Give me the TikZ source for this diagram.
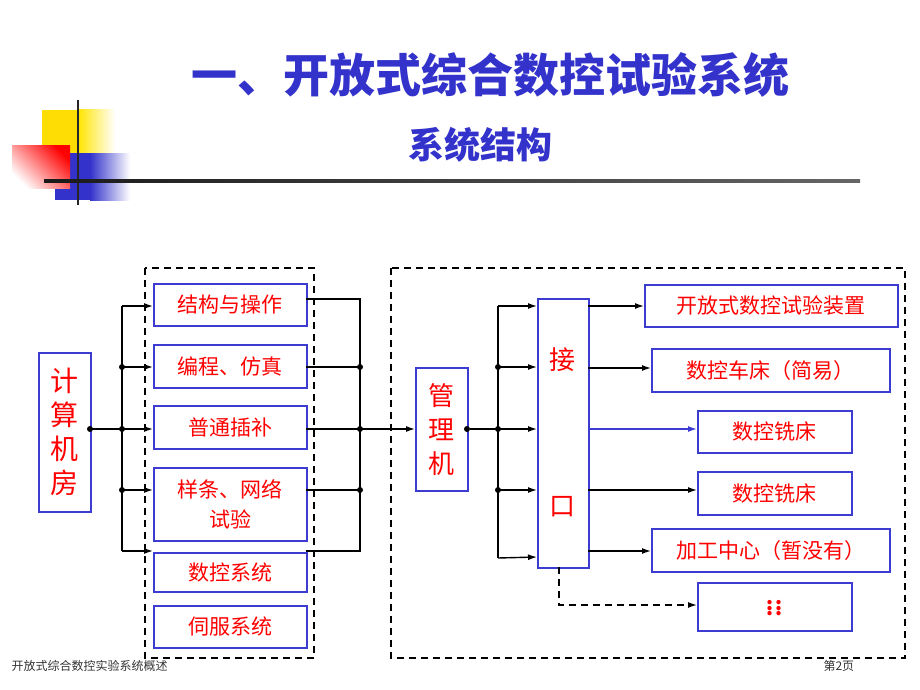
\documentclass[tikz,border=0pt]{standalone}
\usepackage{fontspec}
\setmainfont{Noto Sans CJK SC}
\usetikzlibrary{arrows.meta}
\definecolor{tblue}{RGB}{51,51,204}
\definecolor{bblue}{RGB}{60,60,210}
\definecolor{tred}{RGB}{255,0,0}
\begin{document}
\begin{tikzpicture}[x=1pt,y=-1pt,
 box/.style={draw=bblue,line width=1.6pt,text=tred,font=\fontsize{21}{25}\selectfont,inner sep=0pt,anchor=north west,align=center},
 ln/.style={line width=1.4pt,black},
 ar/.style={ln,-{Latex[length=9pt,width=6pt]}},
 dot/.style={circle,fill=black,inner sep=0pt,minimum size=6pt},
 dline/.style={line width=1.4pt,dash pattern=on 7pt off 5pt}]
\useasboundingbox (0,0) rectangle (920,690);
% decoration
\fill[yellow!80!orange] (42,110) rectangle (78,153);
\shade[left color=yellow!80!orange,right color=white] (78,110) rectangle (115,153);
\fill[tblue] (55,153) rectangle (90,200);
\shade[left color=tblue,right color=white] (90,153) rectangle (130,200);
\shade[left color=white,right color=red,shading angle=135] (12,145) rectangle (70,188);
\draw[line width=2.5pt,black!85] (78,100) -- (78,205);
\shade[left color=black!90,right color=black!60] (44,179.5) rectangle (860,182.5);
% titles
\node[text=tblue,font=\bfseries\fontsize{46}{50}\selectfont] (t1) at (490,75) {一、开放式综合数控试验系统};
\node[text=tblue,font=\bfseries\fontsize{36}{40}\selectfont] (t2) at (480,145) {系统结构};
% dashed frames
\draw[dline] (145,268) rectangle (314,658);
\draw[dline] (391,268) rectangle (905,658);
% boxes
\node[box,minimum width=52pt,minimum height=159pt,font=\fontsize{28}{34}\selectfont] (jsjf) at (38,352) {计\\算\\机\\房};
\node[box,minimum width=153pt,minimum height=42pt] (b1) at (153,283) {结构与操作};
\node[box,minimum width=153pt,minimum height=43pt] (b2) at (153,344) {编程、仿真};
\node[box,minimum width=153pt,minimum height=43pt] (b3) at (153,405) {普通插补};
\node[box,minimum width=153pt,minimum height=73pt,font=\fontsize{21}{30}\selectfont] (b4) at (153,467) {样条、网络\\试验};
\node[box,minimum width=153pt,minimum height=39pt] (b5) at (153,552) {数控系统};
\node[box,minimum width=153pt,minimum height=42pt] (b6) at (153,605) {伺服系统};
\node[box,minimum width=52pt,minimum height=123pt,font=\fontsize{26}{34}\selectfont] (glj) at (415,367) {管\\理\\机};
\node[box,minimum width=51pt,minimum height=269pt] (jk) at (537,298) {};
\node[text=tred,font=\fontsize{26}{30}\selectfont] (jk1) at (562,360) {接};
\node[text=tred,font=\fontsize{26}{30}\selectfont] (jk2) at (562,507) {口};
\node[box,minimum width=253pt,minimum height=42pt] (r1) at (644,284) {开放式数控试验装置};
\node[box,minimum width=238pt,minimum height=43pt] (r2) at (651,348) {数控车床（简易）};
\node[box,minimum width=154pt,minimum height=42pt] (r3) at (697,410) {数控铣床};
\node[box,minimum width=154pt,minimum height=43pt] (r4) at (697,471) {数控铣床};
\node[box,minimum width=238pt,minimum height=43pt] (r5) at (651,528) {加工中心（暂没有）};
\node[box,minimum width=154pt,minimum height=48pt,font=\bfseries\fontsize{20}{12}\selectfont] (r6) at (697,582) {\raisebox{3pt}{$\vdots$}\kern2pt\raisebox{3pt}{$\vdots$}};
% left bus
\coordinate (lb1) at (122,306); \coordinate (lb5) at (122,551);
\draw[ln] (lb1) -- (lb5);
\draw[ln] (jsjf.east |- 0,429) -- (122,429);
\foreach \y in {306,367,429,490,551} \draw[ar] (122,\y) -- (153,\y);
\foreach \y in {367,429,490} \node[dot] (ld\y) at (122,\y) {};
\node[dot] (ldj) at (90,429) {};
% right bus
\draw[ln] (306,299) -- (360,299) -- (360,551) -- (306,551);
\foreach \y in {367,429,490} {\draw[ln] (306,\y) -- (360,\y); \node[dot] (rd\y) at (360,\y) {};}
\draw[ar] (360,429) -- (glj.west |- 0,429);
% third bus
\node[dot] (gd) at (467,429) {};
\draw[ln] (gd) -- (498,429);
\draw[ln] (498,306) -- (498,558);
\foreach \y in {306,367,429,490} \draw[ar] (498,\y) -- (537,\y);
\draw[ar] (498,558) -- (537,557);
\foreach \y in {367,429,490} \node[dot] (md\y) at (498,\y) {};
% outputs
\draw[ar] (588,306) -- (r1.west |- 0,306);
\draw[ar] (588,368) -- (r2.west |- 0,368);
\draw[line width=1.4pt,bblue,-{Latex[length=9pt,width=6pt]}] (588,429) -- (r3.west |- 0,429);
\draw[ar] (588,490) -- (r4.west |- 0,490);
\draw[ar] (588,551) -- (r5.west |- 0,551);
\draw[dline,-{Latex[length=9pt,width=6pt]}] (559,567) -- (559,605) -- (r6.west |- 0,605);
% footer
\node[anchor=west,font=\fontsize{12}{14}\selectfont,text=black!80] (f1) at (8,666) {开放式综合数控实验系统概述};
\node[anchor=west,font=\fontsize{12}{14}\selectfont,text=black!80] (f2) at (820,666) {第2页};
\end{tikzpicture}
\end{document}
